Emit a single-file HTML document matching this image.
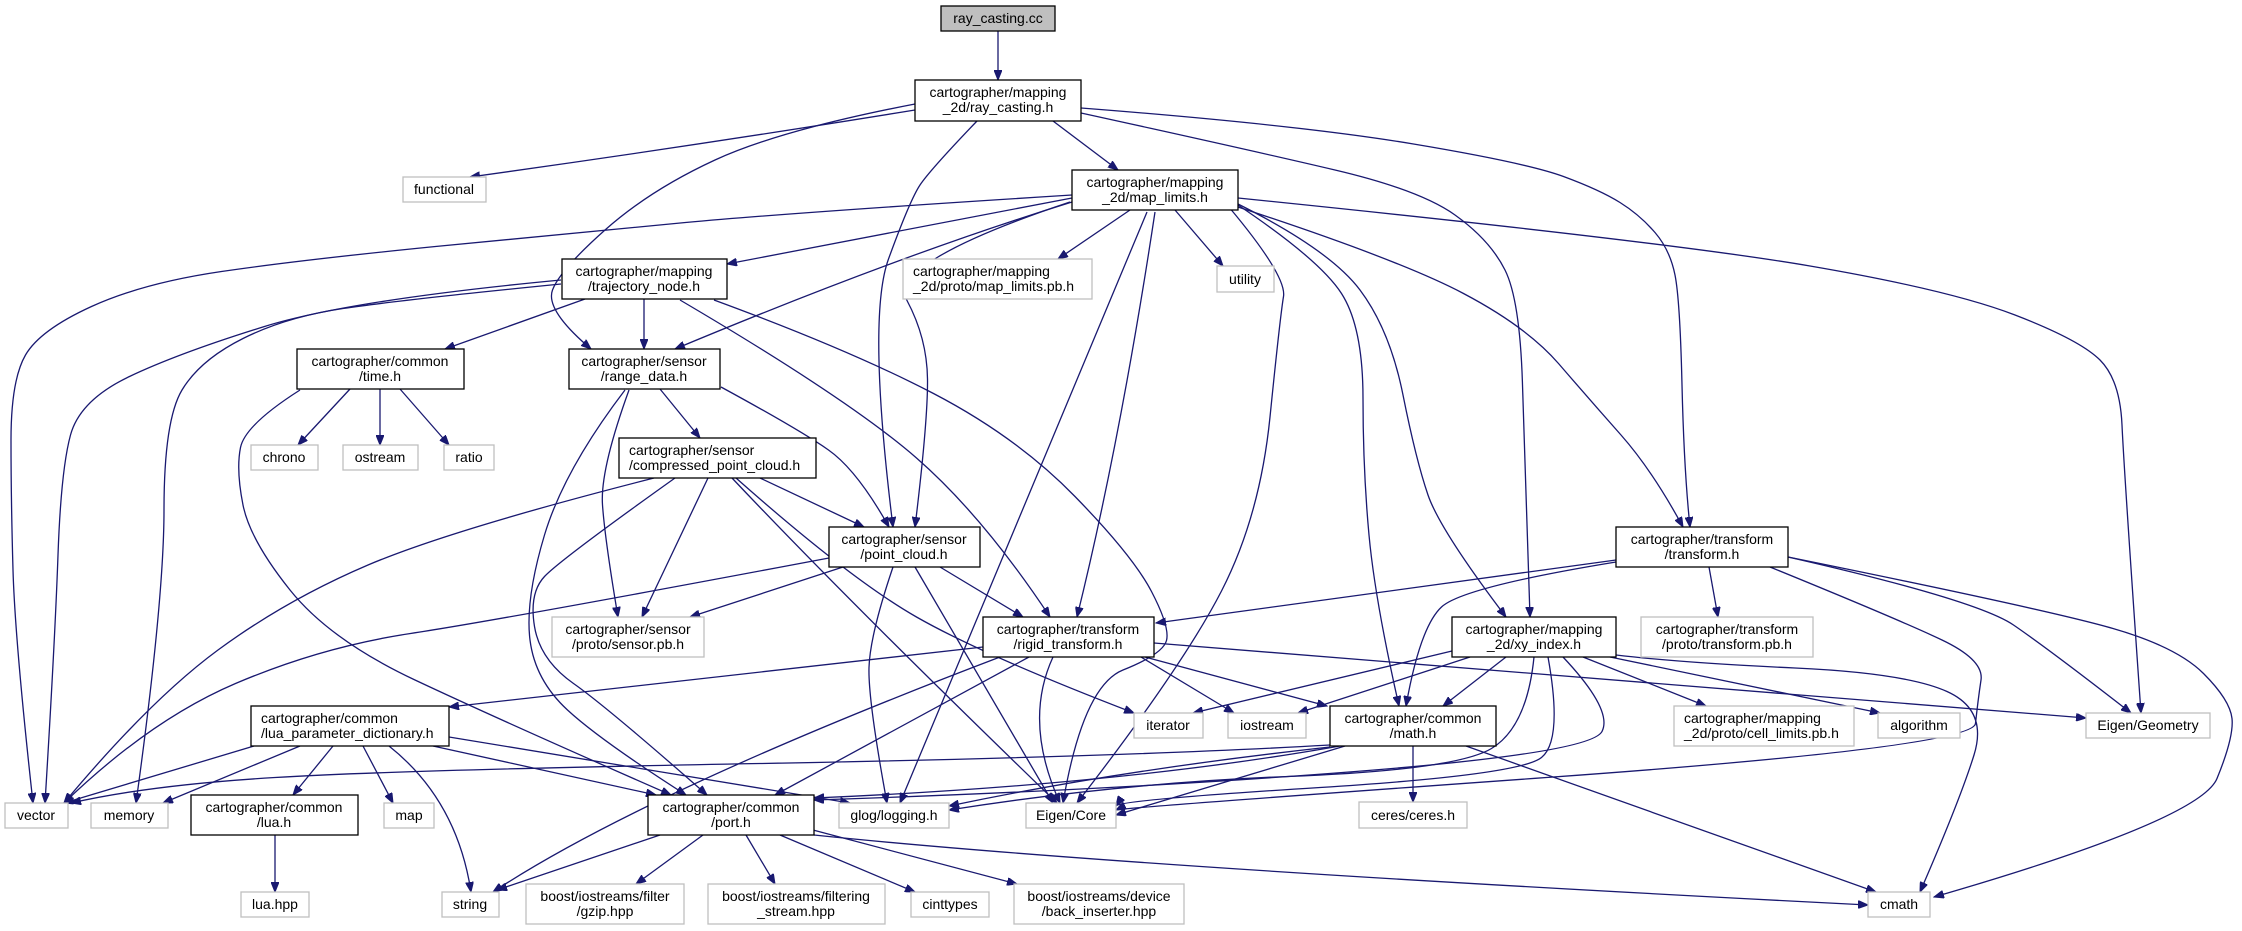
<!DOCTYPE html>
<html><head><meta charset="utf-8"><style>
html,body{margin:0;padding:0;background:#fff;}
svg{display:block;}
text{font-family:"Liberation Sans",sans-serif;font-size:14px;fill:#000;}
.n{fill:#fff;stroke:#000;stroke-width:1.3;}
.g{fill:#fff;stroke:#bfbfbf;stroke-width:1.3;}
.e{fill:none;stroke:#191970;stroke-width:1.3;stroke-linejoin:round;marker-end:url(#a);}
</style></head><body>
<svg id="s" width="2242" height="931" viewBox="0 0 2242 931" xmlns="http://www.w3.org/2000/svg">
<defs><marker id="a" markerUnits="userSpaceOnUse" markerWidth="11" markerHeight="8" refX="10" refY="4" orient="auto"><path d="M0,0 L10,4 L0,8 z" fill="#191970" stroke="#191970"/></marker></defs>
<g id="edges">
<polyline class="e" points="998,31 998,80"/>
<polyline class="e" points="1053,121 1118,170"/>
<polyline class="e" points="915,110 700,145 470,177"/>
<polyline class="e" points="915,104 780,130 650,190 560,270 545,310 591,349"/>
<polyline class="e" points="977,121 930,170 910,200 867,318 893,527"/>
<polyline class="e" points="1081,108 1300,125 1527,163 1600,190 1640,215 1670,250 1680,300 1684,470 1690,527"/>
<polyline class="e" points="1081,113 1250,150 1420,190 1490,240 1520,300 1525,470 1530,617"/>
<polyline class="e" points="1072,198 727,264"/>
<polyline class="e" points="1130,210 1058,259"/>
<polyline class="e" points="1175,210 1223,266"/>
<polyline class="e" points="1072,195 800,212 571,233 300,260 143,283 40,330 11,380 11,500 15,640 33,803"/>
<polyline class="e" points="1072,202 900,255 675,349"/>
<polyline class="e" points="1070,202 887,263 927,338 928,420 915,527"/>
<polyline class="e" points="1147,212 900,803"/>
<polyline class="e" points="1155,212 1120,443 1077,617"/>
<polyline class="e" points="1223,200 1287,275 1280,318 1260,516 1183,666 1077,803"/>
<polyline class="e" points="1238,205 1320,260 1363,327 1363,470 1375,600 1399,706"/>
<polyline class="e" points="1238,204 1330,250 1390,330 1416,460 1440,530 1506,617"/>
<polyline class="e" points="1238,207 1400,260 1527,327 1590,400 1652,470 1683,527"/>
<polyline class="e" points="1238,198 1670,242 1950,290 2080,340 2120,380 2124,470 2141,713"/>
<polyline class="e" points="585,299 445,349"/>
<polyline class="e" points="644,299 644,349"/>
<polyline class="e" points="561,280 350,300 179,353 80,400 61,470 55,640 45,803"/>
<polyline class="e" points="561,284 400,300 286,317 200,360 164,420 164,600 136,803"/>
<polyline class="e" points="680,300 850,400 983,516 1050,617"/>
<polyline class="e" points="714,300 850,350 1017,437 1133,556 1170,627 1163,654 1083,686 1063,803"/>
<polyline class="e" points="350,389 298,445"/>
<polyline class="e" points="380,389 380,445"/>
<polyline class="e" points="400,389 449,445"/>
<polyline class="e" points="300,390 245,425 236,470 250,540 330,640 500,720 671,795"/>
<polyline class="e" points="660,389 700,438"/>
<polyline class="e" points="721,387 800,430 857,470 889,527"/>
<polyline class="e" points="629,390 600,470 605,540 618,617"/>
<polyline class="e" points="625,390 564,470 525,600 535,680 600,740 686,795"/>
<polyline class="e" points="654,478 450,530 286,600 150,700 64,803"/>
<polyline class="e" points="675,478 560,560 529,593 540,660 607,707 707,795"/>
<polyline class="e" points="708,478 642,617"/>
<polyline class="e" points="760,478 864,527"/>
<polyline class="e" points="732,478 850,603 1057,803"/>
<polyline class="e" points="736,478 850,579 983,655 1134,713"/>
<polyline class="e" points="829,558 500,620 321,647 150,720 64,803"/>
<polyline class="e" points="843,567 690,617"/>
<polyline class="e" points="940,567 1023,617"/>
<polyline class="e" points="893,567 870,635 868,700 887,803"/>
<polyline class="e" points="915,567 1053,803"/>
<polyline class="e" points="983,647 449,707"/>
<polyline class="e" points="1000,657 643,793 493,892"/>
<polyline class="e" points="1029,657 775,795"/>
<polyline class="e" points="1053,657 1023,722 1060,803"/>
<polyline class="e" points="1141,657 1234,713"/>
<polyline class="e" points="1145,657 1327,706"/>
<polyline class="e" points="1154,643 2086,718"/>
<polyline class="e" points="1616,560 1156,623"/>
<polyline class="e" points="1616,562 1463,587 1420,627 1406,706"/>
<polyline class="e" points="1709,567 1718,617"/>
<polyline class="e" points="1770,567 1900,620 1984,660 1978,700 1973,747 1120,808 1116,810"/>
<polyline class="e" points="1788,557 1977,600 2050,650 2131,713"/>
<polyline class="e" points="1788,557 2049,610 2177,647 2230,700 2234,737 2200,820 1934,897"/>
<polyline class="e" points="1452,651 1193,713"/>
<polyline class="e" points="1470,657 1298,713"/>
<polyline class="e" points="1506,657 1443,706"/>
<polyline class="e" points="1534,657 1527,727 1456,770 1120,783 949,810"/>
<polyline class="e" points="1548,657 1563,740 1520,775 1120,800 1116,806"/>
<polyline class="e" points="1563,657 1613,710 1591,753 1120,790 814,800"/>
<polyline class="e" points="1583,657 1706,706"/>
<polyline class="e" points="1610,657 1880,713"/>
<polyline class="e" points="1616,655 1684,663 1906,673 1988,710 1960,800 1920,892"/>
<polyline class="e" points="1330,745 1120,757 400,770 150,785 71,803"/>
<polyline class="e" points="1330,747 1120,770 949,806"/>
<polyline class="e" points="1340,746 1120,785 814,798"/>
<polyline class="e" points="1345,746 1116,815"/>
<polyline class="e" points="1413,746 1413,802"/>
<polyline class="e" points="1466,746 1876,892"/>
<polyline class="e" points="254,746 64,803"/>
<polyline class="e" points="300,746 163,803"/>
<polyline class="e" points="333,746 293,795"/>
<polyline class="e" points="363,746 393,803"/>
<polyline class="e" points="389,746 457,800 471,892"/>
<polyline class="e" points="433,746 656,795"/>
<polyline class="e" points="449,737 850,803"/>
<polyline class="e" points="275,835 275,892"/>
<polyline class="e" points="660,835 497,890"/>
<polyline class="e" points="703,835 636,884"/>
<polyline class="e" points="746,835 775,884"/>
<polyline class="e" points="780,835 915,892"/>
<polyline class="e" points="813,830 1017,884"/>
<polyline class="e" points="814,835 1120,867 1868,905"/>
</g>
<g>
<rect x="941" y="6" width="114" height="25" fill="#bfbfbf" stroke="#000" stroke-width="1.3"/><text x="998" y="23" text-anchor="middle">ray_casting.cc</text>
<rect class="n" x="915" y="80" width="166" height="41"/><text x="998" y="97" text-anchor="middle">cartographer/mapping</text><text x="998" y="112" text-anchor="middle">_2d/ray_casting.h</text>
<rect class="n" x="1072" y="170" width="166" height="40"/><text x="1155" y="187" text-anchor="middle">cartographer/mapping</text><text x="1155" y="202" text-anchor="middle">_2d/map_limits.h</text>
<rect class="g" x="403" y="177" width="83" height="25"/><text x="444" y="194" text-anchor="middle">functional</text>
<rect class="n" x="562" y="259" width="165" height="40"/><text x="644" y="276" text-anchor="middle">cartographer/mapping</text><text x="644" y="291" text-anchor="middle">/trajectory_node.h</text>
<rect class="g" x="903" y="259" width="189" height="40"/><text x="913" y="276">cartographer/mapping</text><text x="913" y="291">_2d/proto/map_limits.pb.h</text>
<rect class="g" x="1217" y="266" width="57" height="26"/><text x="1245" y="284" text-anchor="middle">utility</text>
<rect class="n" x="297" y="349" width="167" height="40"/><text x="380" y="366" text-anchor="middle">cartographer/common</text><text x="380" y="381" text-anchor="middle">/time.h</text>
<rect class="n" x="569" y="349" width="151" height="40"/><text x="644" y="366" text-anchor="middle">cartographer/sensor</text><text x="644" y="381" text-anchor="middle">/range_data.h</text>
<rect class="g" x="251" y="445" width="67" height="25"/><text x="284" y="462" text-anchor="middle">chrono</text>
<rect class="g" x="343" y="445" width="75" height="25"/><text x="380" y="462" text-anchor="middle">ostream</text>
<rect class="g" x="444" y="445" width="50" height="25"/><text x="469" y="462" text-anchor="middle">ratio</text>
<rect class="n" x="619" y="438" width="197" height="40"/><text x="629" y="455">cartographer/sensor</text><text x="629" y="470">/compressed_point_cloud.h</text>
<rect class="n" x="829" y="527" width="151" height="40"/><text x="904" y="544" text-anchor="middle">cartographer/sensor</text><text x="904" y="559" text-anchor="middle">/point_cloud.h</text>
<rect class="n" x="1616" y="527" width="172" height="40"/><text x="1702" y="544" text-anchor="middle">cartographer/transform</text><text x="1702" y="559" text-anchor="middle">/transform.h</text>
<rect class="g" x="552" y="617" width="152" height="40"/><text x="628" y="634" text-anchor="middle">cartographer/sensor</text><text x="628" y="649" text-anchor="middle">/proto/sensor.pb.h</text>
<rect class="n" x="983" y="617" width="171" height="40"/><text x="1068" y="634" text-anchor="middle">cartographer/transform</text><text x="1068" y="649" text-anchor="middle">/rigid_transform.h</text>
<rect class="n" x="1452" y="617" width="164" height="40"/><text x="1534" y="634" text-anchor="middle">cartographer/mapping</text><text x="1534" y="649" text-anchor="middle">_2d/xy_index.h</text>
<rect class="g" x="1641" y="617" width="172" height="40"/><text x="1727" y="634" text-anchor="middle">cartographer/transform</text><text x="1727" y="649" text-anchor="middle">/proto/transform.pb.h</text>
<rect class="n" x="251" y="706" width="198" height="40"/><text x="261" y="723">cartographer/common</text><text x="261" y="738">/lua_parameter_dictionary.h</text>
<rect class="g" x="1134" y="713" width="69" height="25"/><text x="1168" y="730" text-anchor="middle">iterator</text>
<rect class="g" x="1228" y="713" width="78" height="25"/><text x="1267" y="730" text-anchor="middle">iostream</text>
<rect class="n" x="1330" y="706" width="166" height="40"/><text x="1413" y="723" text-anchor="middle">cartographer/common</text><text x="1413" y="738" text-anchor="middle">/math.h</text>
<rect class="g" x="1674" y="706" width="180" height="40"/><text x="1684" y="723">cartographer/mapping</text><text x="1684" y="738">_2d/proto/cell_limits.pb.h</text>
<rect class="g" x="1878" y="713" width="82" height="25"/><text x="1919" y="730" text-anchor="middle">algorithm</text>
<rect class="g" x="2086" y="713" width="124" height="25"/><text x="2148" y="730" text-anchor="middle">Eigen/Geometry</text>
<rect class="g" x="5" y="803" width="63" height="25"/><text x="36" y="820" text-anchor="middle">vector</text>
<rect class="g" x="91" y="803" width="77" height="25"/><text x="129" y="820" text-anchor="middle">memory</text>
<rect class="n" x="191" y="795" width="167" height="40"/><text x="274" y="812" text-anchor="middle">cartographer/common</text><text x="274" y="827" text-anchor="middle">/lua.h</text>
<rect class="g" x="384" y="803" width="50" height="25"/><text x="409" y="820" text-anchor="middle">map</text>
<rect class="n" x="648" y="795" width="166" height="40"/><text x="731" y="812" text-anchor="middle">cartographer/common</text><text x="731" y="827" text-anchor="middle">/port.h</text>
<rect class="g" x="839" y="803" width="110" height="25"/><text x="894" y="820" text-anchor="middle">glog/logging.h</text>
<rect class="g" x="1026" y="803" width="90" height="25"/><text x="1071" y="820" text-anchor="middle">Eigen/Core</text>
<rect class="g" x="1359" y="802" width="108" height="26"/><text x="1413" y="820" text-anchor="middle">ceres/ceres.h</text>
<rect class="g" x="241" y="892" width="68" height="25"/><text x="275" y="909" text-anchor="middle">lua.hpp</text>
<rect class="g" x="442" y="892" width="57" height="25"/><text x="470" y="909" text-anchor="middle">string</text>
<rect class="g" x="526" y="884" width="158" height="40"/><text x="605" y="901" text-anchor="middle">boost/iostreams/filter</text><text x="605" y="916" text-anchor="middle">/gzip.hpp</text>
<rect class="g" x="708" y="884" width="177" height="40"/><text x="796" y="901" text-anchor="middle">boost/iostreams/filtering</text><text x="796" y="916" text-anchor="middle">_stream.hpp</text>
<rect class="g" x="911" y="892" width="78" height="25"/><text x="950" y="909" text-anchor="middle">cinttypes</text>
<rect class="g" x="1014" y="884" width="170" height="40"/><text x="1099" y="901" text-anchor="middle">boost/iostreams/device</text><text x="1099" y="916" text-anchor="middle">/back_inserter.hpp</text>
<rect class="g" x="1868" y="892" width="62" height="25"/><text x="1899" y="909" text-anchor="middle">cmath</text>
</g>
</svg>
<script>
(function(){
var ns="http://www.w3.org/2000/svg";
var pls=document.querySelectorAll("#edges polyline");
for(var i=0;i<pls.length;i++){
 var pl=pls[i];
 var pts=pl.getAttribute("points").trim().split(/\s+/).map(function(s){var a=s.split(",");return [+a[0],+a[1]];});
 if(pts.length<3)continue;
 var d="M"+pts[0][0]+","+pts[0][1];
 for(var k=1;k<pts.length-1;k++){
  var m=[(pts[k][0]+pts[k+1][0])/2,(pts[k][1]+pts[k+1][1])/2];
  if(k==pts.length-2){m=pts[k+1];}
  d+=" Q"+pts[k][0]+","+pts[k][1]+" "+m[0]+","+m[1];
 }
 var p=document.createElementNS(ns,"path");
 p.setAttribute("d",d);p.setAttribute("class","e");
 pl.parentNode.replaceChild(p,pl);
}
})();
</script>
</body></html>
